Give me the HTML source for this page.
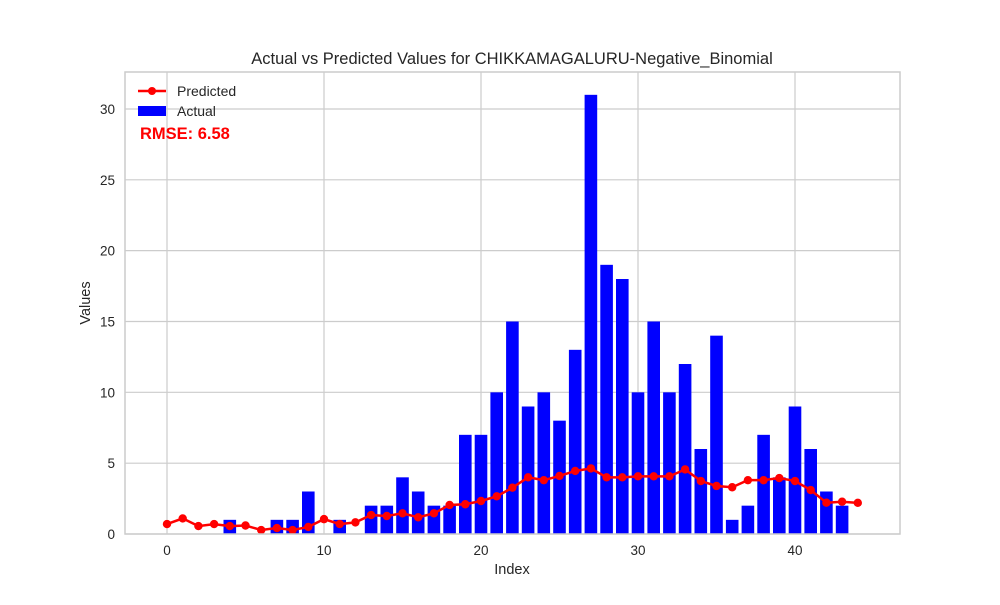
<!DOCTYPE html>
<html><head><meta charset="utf-8"><style>
body{margin:0;background:#fff;font-family:"Liberation Sans",sans-serif}
svg text{font-family:"Liberation Sans",sans-serif;fill:#262626}
</style></head><body>
<svg id="chart" width="1000" height="600">
<rect width="1000" height="600" fill="#fff"/>
<g id="grid"></g><g id="bars"></g><g id="line"></g><g id="ticks"></g>
<rect x="125" y="72" width="775" height="462" fill="none" stroke="#cccccc" stroke-width="1.5"/>
<text x="512" y="64" text-anchor="middle" font-size="16.5">Actual vs Predicted Values for CHIKKAMAGALURU-Negative_Binomial</text>
<text x="512" y="574" text-anchor="middle" font-size="14.5">Index</text>
<text x="90" y="303" text-anchor="middle" font-size="14.5" transform="rotate(-90 90 303)">Values</text>
<g>
<line x1="138" y1="91" x2="166" y2="91" stroke="red" stroke-width="2.5"/><circle cx="152" cy="91" r="4" fill="red"/>
<text x="177" y="96" font-size="14">Predicted</text>
<rect x="138" y="106" width="28" height="10" fill="blue"/>
<text x="177" y="116" font-size="14">Actual</text>
</g>
<text x="140" y="139" font-size="16.5" font-weight="bold" fill="red" style="fill:red">RMSE: 6.58</text>
</svg>
<script>
const actual=[0,0,0,0,1,0,0,1,1,3,0,1,0,2,2,4,3,2,2,7,7,10,15,9,10,8,13,31,19,18,10,15,10,12,6,14,1,2,7,4,9,6,3,2,0];
const predicted=[0.7,1.1,0.56,0.7,0.56,0.6,0.28,0.42,0.28,0.5,1.05,0.7,0.82,1.34,1.27,1.46,1.18,1.46,2.05,2.1,2.33,2.66,3.27,4.0,3.8,4.1,4.45,4.63,4.0,4.0,4.07,4.07,4.07,4.56,3.74,3.39,3.3,3.8,3.8,3.95,3.74,3.1,2.21,2.28,2.2];
const xTicks=[0,10,20,30,40];
const yTicks=[0,5,10,15,20,25,30];
const NS="http://www.w3.org/2000/svg";
const X=v=>167+v*15.7, Y=v=>534-v*14.167;
function mk(t,a,p){const e=document.createElementNS(NS,t);for(const k in a)e.setAttribute(k,a[k]);document.getElementById(p).appendChild(e);return e;}
xTicks.forEach(t=>{
 const g=mk('line',{x1:X(t),x2:X(t),y1:72,y2:534,stroke:'#cccccc','stroke-width':1.2},'grid');
 
 
 const l=mk('text',{x:X(t),y:555,'text-anchor':'middle','font-size':13.5},'ticks');l.textContent=t;
 
 
});
yTicks.forEach(t=>{
 const g=mk('line',{x1:125,x2:900,y1:Y(t),y2:Y(t),stroke:'#cccccc','stroke-width':1.2},'grid');
 
 
 const l=mk('text',{x:115,y:Y(t)+5,'text-anchor':'end','font-size':13.5},'ticks');l.textContent=t;
 
 
});
actual.forEach((v,i)=>{
 if(v<=0)return;
 const b=mk('rect',{x:X(i)-6.3,y:Y(v),width:12.6,height:Y(0)-Y(v),fill:'blue'},'bars');
 
 
});
const pl=mk('polyline',{points:predicted.map((v,i)=>X(i)+','+Y(v)).join(' '),fill:'none',stroke:'red','stroke-width':2.5},'line');


predicted.forEach((v,i)=>{
 const c=mk('circle',{cx:X(i),cy:Y(v),r:4.2,fill:'red'},'line');
 
 
});
</script>
</body></html>
